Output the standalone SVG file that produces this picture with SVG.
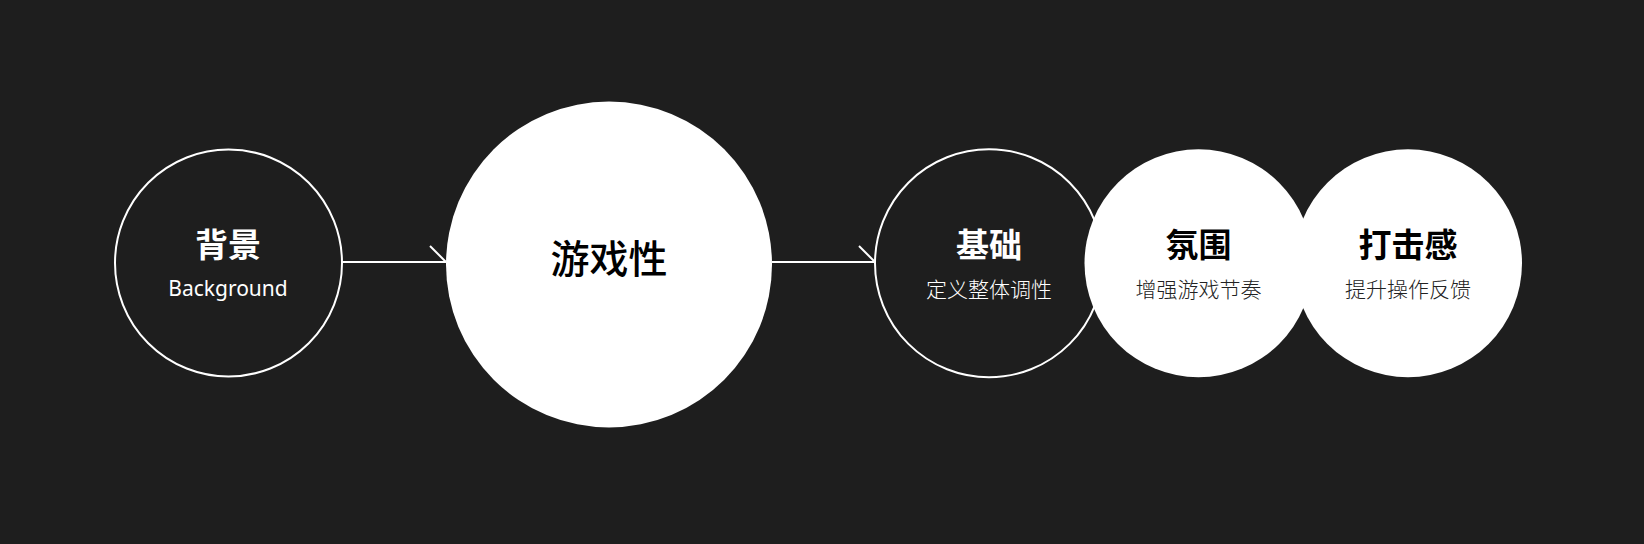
<svg xmlns="http://www.w3.org/2000/svg" width="1644" height="544" viewBox="0 0 1644 544">
<style>
.cjk{font-family:"Noto Sans CJK SC","Noto Sans",sans-serif;text-anchor:middle}
.t{font-size:33px;font-weight:700}
.s{font-size:21px;font-weight:300}
.w{fill:#ffffff}
.k{fill:#000000}
.g{fill:#222222}
.ring{fill:#1e1e1e;stroke:#ffffff;stroke-width:2}
.disc{fill:#ffffff}
.edge{stroke:#ffffff;stroke-width:2;fill:none}
</style>
<rect width="1644" height="544" fill="#1e1e1e"/>
<g id="connectors">
<line class="edge" x1="342" y1="262" x2="446" y2="262"/>
<line class="edge" x1="430" y1="246" x2="446" y2="262"/>
<line class="edge" x1="772" y1="262" x2="875" y2="262"/>
<line class="edge" x1="859" y1="246" x2="875" y2="262"/>
</g>
<g id="node-background">
<circle class="ring" cx="228.5" cy="263" r="113.5"/>
<text class="cjk t w" x="228" y="257">背景</text>
<text class="w" x="228" y="296" font-family="Noto Sans, sans-serif" font-size="21" text-anchor="middle">Background</text>
</g>
<g id="node-gameplay">
<circle class="disc" cx="609" cy="264.5" r="163"/>
<text class="cjk k" x="609" y="273" font-size="39" font-weight="500">游戏性</text>
</g>
<g id="node-base">
<circle class="ring" cx="989" cy="263.3" r="114"/>
<text class="cjk t w" x="989" y="257">基础</text>
<text class="cjk s w" x="989" y="297">定义整体调性</text>
</g>
<g id="node-atmosphere">
<circle class="disc" cx="1198.5" cy="263.3" r="114"/>
<text class="cjk t k" x="1198.5" y="257">氛围</text>
<text class="cjk s g" x="1198.5" y="297">增强游戏节奏</text>
</g>
<g id="node-impact">
<circle class="disc" cx="1408" cy="263.3" r="114"/>
<text class="cjk t k" x="1408" y="257">打击感</text>
<text class="cjk s g" x="1408" y="297">提升操作反馈</text>
</g>
</svg>
